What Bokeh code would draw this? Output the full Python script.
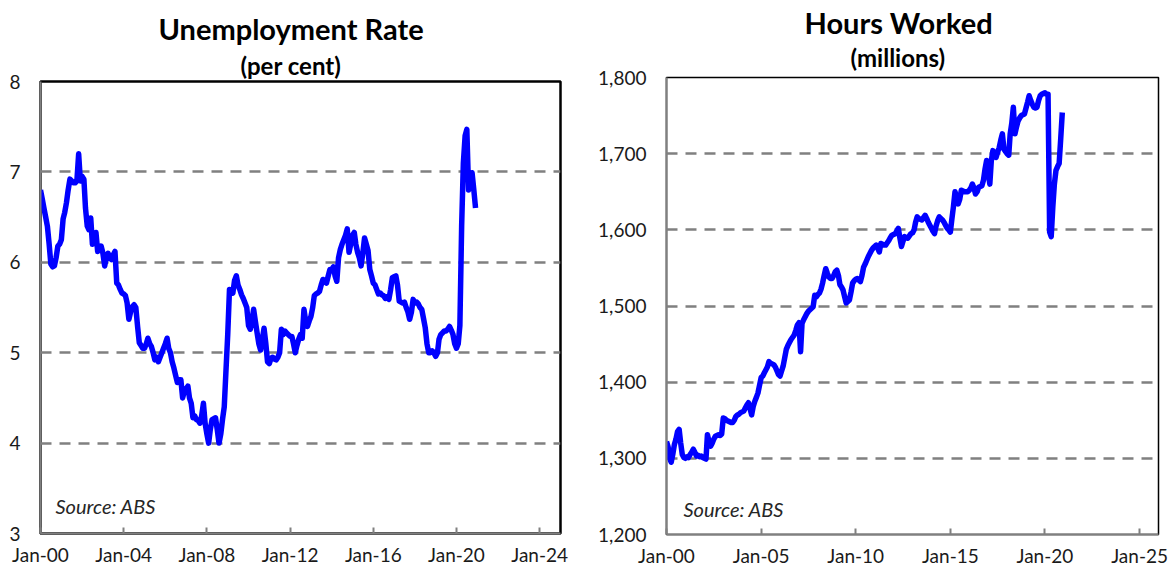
import pandas as pd
from bokeh.plotting import figure
from bokeh.layouts import row, column
from bokeh.models import Range1d, FixedTicker, Label, Title, NumeralTickFormatter, DatetimeTickFormatter
from bokeh.embed import file_html
from bokeh.resources import INLINE

FONT = "Lato"

# ---------------- data ----------------
# Monthly unemployment rate (per cent), Jan-2000 .. Dec-2020
unemployment_rate = [
    6.8, 6.7, 6.6, 6.5, 6.4, 6.2, 5.98, 5.95, 5.96, 6.05, 6.18, 6.2,          # 2000
    6.25, 6.48, 6.55, 6.66, 6.8, 6.92, 6.9, 6.88, 6.88, 6.9, 7.2, 6.9,       # 2001
    6.95, 6.92, 6.6, 6.4, 6.36, 6.49, 6.2, 6.25, 6.33, 6.12, 6.15, 6.18,     # 2002
    6.1, 5.96, 6.05, 6.1, 6.05, 6.03, 6.08, 6.12, 5.77, 5.75, 5.7, 5.66,     # 2003
    5.65, 5.63, 5.55, 5.37, 5.45, 5.51, 5.53, 5.5, 5.29, 5.11, 5.08, 5.05,   # 2004
    5.05, 5.1, 5.16, 5.1, 5.07, 5.0, 4.92, 4.95, 4.9, 4.95, 5.0, 5.05,       # 2005
    5.1, 5.16, 5.05, 5.0, 4.9, 4.83, 4.75, 4.67, 4.7, 4.7, 4.5, 4.57,        # 2006
    4.6, 4.63, 4.5, 4.44, 4.28, 4.3, 4.26, 4.25, 4.22, 4.3, 4.44, 4.22,      # 2007
    4.1, 4.0, 4.15, 4.26, 4.27, 4.28, 4.15, 4.0, 4.1, 4.26, 4.4, 4.8,        # 2008
    5.2, 5.7, 5.68, 5.66, 5.8, 5.85, 5.75, 5.7, 5.64, 5.6, 5.55, 5.5,        # 2009
    5.3, 5.26, 5.35, 5.48, 5.35, 5.22, 5.1, 5.03, 5.15, 5.27, 5.1, 4.9,      # 2010
    4.88, 4.94, 4.95, 4.93, 4.92, 4.95, 5.0, 5.26, 5.2, 5.24, 5.22, 5.2,     # 2011
    5.18, 5.18, 5.1, 5.0, 5.08, 5.15, 5.2, 5.16, 5.48, 5.35, 5.29, 5.35,     # 2012
    5.4, 5.5, 5.63, 5.65, 5.66, 5.68, 5.75, 5.81, 5.79, 5.77, 5.85, 5.92,    # 2013
    5.92, 5.95, 5.85, 5.79, 6.05, 6.14, 6.2, 6.25, 6.3, 6.37, 6.11, 6.2,     # 2014
    6.3, 6.33, 6.2, 6.11, 6.05, 5.96, 6.1, 6.27, 6.2, 6.13, 5.92, 5.85,      # 2015
    5.77, 5.75, 5.7, 5.65, 5.66, 5.64, 5.63, 5.6, 5.62, 5.59, 5.7, 5.83,     # 2016
    5.84, 5.85, 5.75, 5.57, 5.56, 5.55, 5.56, 5.5, 5.45, 5.37, 5.45, 5.59,   # 2017
    5.55, 5.56, 5.54, 5.5, 5.48, 5.38, 5.28, 5.1, 5.0, 5.0, 5.02, 5.0,       # 2018
    4.96, 5.0, 5.15, 5.2, 5.22, 5.24, 5.24, 5.26, 5.29, 5.25, 5.2, 5.1,      # 2019
    5.05, 5.1, 5.3, 6.4, 7.1, 7.4, 7.47, 6.8, 6.9, 6.99, 6.8, 6.6,           # 2020
]

# Monthly hours worked (millions), Jan-2000 .. Dec-2020
hours_worked = [
    1322, 1315, 1300, 1295, 1305, 1318, 1325, 1335, 1338, 1320, 1305, 1301,  # 2000
    1300, 1302, 1301, 1305, 1308, 1312, 1308, 1303, 1304, 1302, 1303, 1301,  # 2001
    1300, 1299, 1331, 1322, 1316, 1320, 1325, 1329, 1330, 1331, 1330, 1332,  # 2002
    1353, 1352, 1350, 1349, 1348, 1347, 1347, 1350, 1355, 1357, 1358, 1360,  # 2003
    1361, 1362, 1366, 1370, 1373, 1365, 1357, 1368, 1375, 1380, 1386, 1396,  # 2004
    1406, 1408, 1412, 1416, 1420, 1427, 1425, 1424, 1423, 1420, 1415, 1410,  # 2005
    1408, 1415, 1421, 1432, 1443, 1448, 1452, 1456, 1459, 1462, 1468, 1475,  # 2006
    1478, 1440, 1477, 1482, 1486, 1490, 1493, 1495, 1497, 1499, 1514, 1512,  # 2007
    1515, 1517, 1522, 1530, 1540, 1549, 1543, 1538, 1536, 1536, 1540, 1545,  # 2008
    1547, 1540, 1528, 1525, 1521, 1512, 1504, 1506, 1508, 1518, 1530, 1533,  # 2009
    1535, 1536, 1534, 1532, 1540, 1551, 1555, 1560, 1565, 1569, 1573, 1576,  # 2010
    1578, 1580, 1576, 1571, 1582, 1581, 1580, 1580, 1583, 1586, 1590, 1593,  # 2011
    1594, 1595, 1598, 1602, 1590, 1578, 1585, 1591, 1590, 1589, 1592, 1595,  # 2012
    1596, 1600, 1610, 1617, 1615, 1614, 1613, 1616, 1619, 1615, 1610, 1606,  # 2013
    1602, 1598, 1595, 1605, 1612, 1617, 1615, 1613, 1610, 1606, 1602, 1600,  # 2014
    1597, 1615, 1630, 1650, 1642, 1634, 1640, 1652, 1651, 1650, 1650, 1650,  # 2015
    1652, 1655, 1660, 1655, 1647, 1650, 1656, 1657, 1658, 1665, 1680, 1691,  # 2016
    1675, 1660, 1690, 1704, 1700, 1695, 1702, 1708, 1718, 1726, 1706, 1703,  # 2017
    1700, 1698, 1726, 1740, 1761, 1726, 1735, 1743, 1747, 1750, 1751, 1752,  # 2018
    1760, 1768, 1776, 1770, 1765, 1761, 1760, 1761, 1770, 1776, 1778, 1779,  # 2019
    1780, 1778, 1778, 1597, 1591, 1630, 1660, 1678, 1683, 1687, 1720, 1754,  # 2020
]

months = pd.date_range("2000-01-01", periods=len(unemployment_rate), freq="MS")

left_tick_dates = ["2000-01-01", "2004-01-01", "2008-01-01", "2012-01-01",
                   "2016-01-01", "2020-01-01", "2024-01-01"]
left_tick_labels = ["Jan-00", "Jan-04", "Jan-08", "Jan-12", "Jan-16", "Jan-20", "Jan-24"]
right_tick_dates = ["2000-01-01", "2005-01-01", "2010-01-01", "2015-01-01",
                    "2020-01-01", "2025-01-01"]
right_tick_labels = ["Jan-00", "Jan-05", "Jan-10", "Jan-15", "Jan-20", "Jan-25"]

left_y_ticks = [3, 4, 5, 6, 7, 8]
left_y_grid = [4, 5, 6, 7]
right_y_ticks = [1200, 1300, 1400, 1500, 1600, 1700, 1800]
right_y_grid = [1300, 1400, 1500, 1600, 1700, 1800]

LINE_BLUE = "#0000FF"
GRID_GREY = "#808080"
AXIS_GREY = "#808080"
TEXT = "#1a1a1a"


def to_ms(d):
    return int(pd.Timestamp(d).value // 10**6)


def style(p, tick_dates, tick_labels, y_ticks, y_grid, outline_w):
    ms = [to_ms(d) for d in tick_dates]
    p.xaxis.ticker = FixedTicker(ticks=ms)
    p.xaxis.formatter = DatetimeTickFormatter(
        years="%b-%y", months="%b-%y", days="%b-%y", hours="%b-%y")
    p.xaxis.major_label_overrides = {m: l for m, l in zip(ms, tick_labels)}
    p.xaxis.axis_line_color = AXIS_GREY
    p.xaxis.axis_line_width = 2
    p.xaxis.major_tick_in = 6
    p.xaxis.major_tick_out = 0
    p.xaxis.major_tick_line_color = AXIS_GREY
    p.xaxis.major_tick_line_width = 2
    p.xaxis.minor_tick_line_color = None
    p.xaxis.major_label_standoff = 9
    p.xaxis.major_label_text_font = FONT
    p.xaxis.major_label_text_font_size = "19px"
    p.xaxis.major_label_text_color = TEXT

    p.yaxis.ticker = FixedTicker(ticks=y_ticks)
    p.yaxis.axis_line_color = AXIS_GREY
    p.yaxis.axis_line_width = 2
    p.yaxis.major_tick_in = 0
    p.yaxis.major_tick_out = 0
    p.yaxis.major_tick_line_color = None
    p.yaxis.minor_tick_line_color = None
    p.yaxis.major_label_standoff = 20
    p.yaxis.major_label_text_font = FONT
    p.yaxis.major_label_text_font_size = "19px"
    p.yaxis.major_label_text_color = TEXT

    p.xgrid.grid_line_color = None
    p.ygrid.ticker = FixedTicker(ticks=y_grid)
    p.ygrid.grid_line_color = GRID_GREY
    p.ygrid.grid_line_width = 2.5
    p.ygrid.grid_line_dash = "11 8"

    p.outline_line_color = "black"
    p.outline_line_width = outline_w
    p.outline_line_alpha = 1.0
    p.background_fill_color = "white"
    p.border_fill_color = "white"


def titles(p, title, sub, title_offset, sub_offset, title_standoff, sub_standoff):
    p.add_layout(Title(text=sub, align="left", offset=sub_offset,
                       standoff=sub_standoff,
                       text_font=FONT, text_font_style="bold",
                       text_font_size="24px", text_color="black"), "above")
    p.add_layout(Title(text=title, align="left", offset=title_offset,
                       standoff=title_standoff,
                       text_font=FONT, text_font_style="bold",
                       text_font_size="29px", text_color="black"), "above")


def source(p, x, y):
    p.add_layout(Label(x=x, y=y, x_units="screen", y_units="screen",
                       text="Source: ABS", text_align="left", text_baseline="middle",
                       text_font=FONT, text_font_style="italic",
                       text_font_size="20px", text_color="#262626"))


# ---------------- left: unemployment rate ----------------
p1 = figure(width=580, height=570, x_axis_type="datetime",
            output_backend="svg", toolbar_location=None,
            x_range=Range1d(pd.Timestamp("2000-01-01"), pd.Timestamp("2025-01-01")),
            y_range=Range1d(3, 8),
            min_border_left=40, min_border_right=20,
            min_border_top=81, min_border_bottom=37)
style(p1, left_tick_dates, left_tick_labels, left_y_ticks, left_y_grid, 2.5)
p1.line(x=months, y=unemployment_rate, line_color=LINE_BLUE, line_width=5.5,
        line_join="round")
titles(p1, "Unemployment Rate", "(per cent)", 118, 200, 1, 4)
source(p1, 15, 28)

# ---------------- right: hours worked ----------------
p2 = figure(width=588, height=570, x_axis_type="datetime",
            output_backend="svg", toolbar_location=None,
            x_range=Range1d(pd.Timestamp("2000-01-01"), pd.Timestamp("2026-01-01")),
            y_range=Range1d(1200, 1800),
            min_border_left=86, min_border_right=10,
            min_border_top=77, min_border_bottom=36)
style(p2, right_tick_dates, right_tick_labels, right_y_ticks, right_y_grid, 1.5)
p2.yaxis.formatter = NumeralTickFormatter(format="0,0")
p2.line(x=months, y=hours_worked, line_color=LINE_BLUE, line_width=5.5,
        line_join="round")
titles(p2, "Hours Worked", "(millions)", 138, 184, -8, 11)
source(p2, 17, 26)

layout = row(column(p1), column(p2), spacing=0)
open("out.html", "w").write(file_html(layout, INLINE))
